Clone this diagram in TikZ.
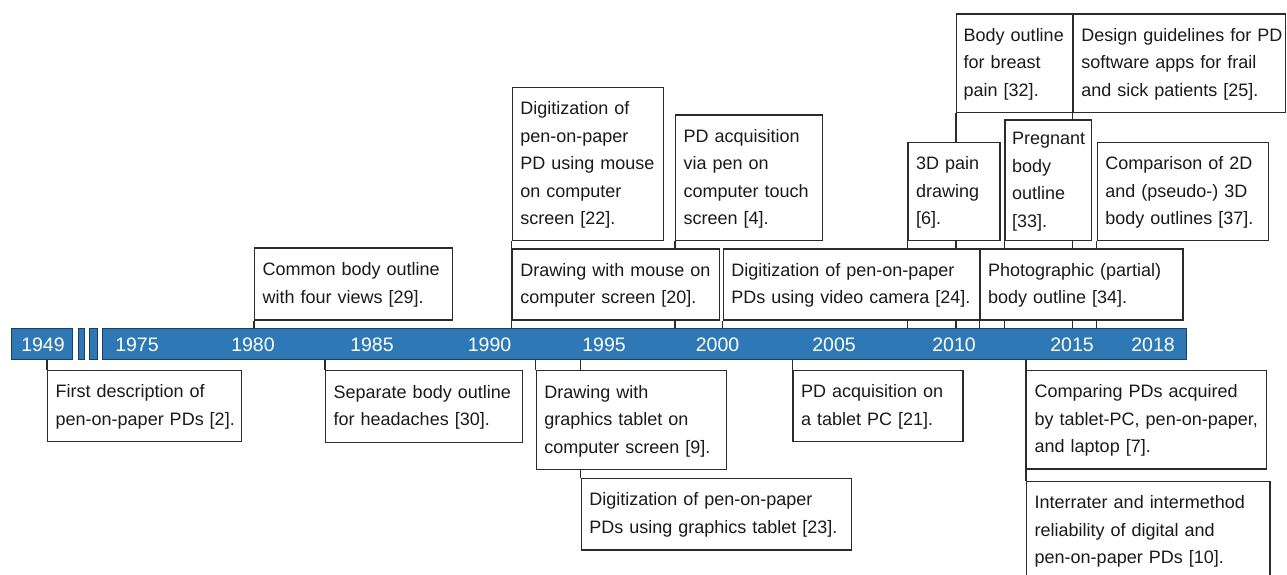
\documentclass[tikz,border=0pt]{standalone}
\usepackage{fontspec}
\setmainfont{Liberation Sans}
\usetikzlibrary{backgrounds}
\definecolor{barblue}{HTML}{2E78B6}
\definecolor{bardark}{HTML}{1C3E5E}
\definecolor{boxc}{HTML}{2B2B2B}
\definecolor{txt}{HTML}{1A1A1A}
\tikzset{
  evt/.style={draw=boxc, line width=1.4pt, fill=white, align=left, inner xsep=8pt, inner ysep=0pt,
    anchor=north west, text=txt, font=\fontsize{18}{27.5}\selectfont,
    execute at begin node={\exhyphenpenalty=10000\hyphenpenalty=10000\strut},
    execute at end node={\strut}},
  barseg/.style={draw=bardark, line width=0.8pt, fill=barblue, inner sep=0pt, anchor=north west, minimum height=30.4pt},
  yr/.style={text=white, font=\fontsize{19.5}{20}\selectfont, inner sep=0pt},
  conn/.style={draw=boxc, line width=1.3pt}
}
\begin{document}
\begin{tikzpicture}[x=1pt,y=-1pt]
\useasboundingbox (0,0) rectangle (1287,574);
\clip (0,0) rectangle (1287,574);
% timeline bar
\node[barseg, minimum width=60.4pt] (s1) at (11.3,328.3) {};
\node[barseg, minimum width=6.6pt] (s2) at (77.7,328.3) {};
\node[barseg, minimum width=7.4pt] (s3) at (89.3,328.3) {};
\node[barseg, minimum width=1083.7pt] (bar) at (102.3,328.3) {};
\node[yr] (y1949) at (43,344.5) {1949};
\node[yr] (y1975) at (137,344.5) {1975};
\node[yr] (y1980) at (253,344.5) {1980};
\node[yr] (y1985) at (372,344.5) {1985};
\node[yr] (y1990) at (489.5,344.5) {1990};
\node[yr] (y1995) at (604,344.5) {1995};
\node[yr] (y2000) at (717.5,344.5) {2000};
\node[yr] (y2005) at (834,344.5) {2005};
\node[yr] (y2010) at (954,344.5) {2010};
\node[yr] (y2015) at (1072,344.5) {2015};
\node[yr] (y2018) at (1153,344.5) {2018};
% top events
\node[evt, minimum width=197.7pt, minimum height=72pt, text width=181.7pt] (t1) at (254,247.3)
  {Common~body~outline\\with~four~views~[29].};
\node[evt, minimum width=151pt, minimum height=153.3pt, text width=135pt] (t2) at (511.7,86.7)
  {Digitization~of\\pen-on-paper\\PD~using~mouse\\on~computer\\screen~[22].};
\node[evt, minimum width=146.7pt, minimum height=125.7pt, text width=130.7pt] (t4) at (675,114.3)
  {PD~acquisition\\via~pen~on\\computer~touch\\screen~[4].};
\node[evt, minimum width=207.3pt, minimum height=71pt, text width=191.3pt] (t3) at (511.7,248.3)
  {Drawing~with~mouse~on\\computer~screen~[20].};
\node[evt, minimum width=256.6pt, minimum height=71pt, text width=240.6pt] (t5) at (722.7,248.3)
  {Digitization~of~pen-on-paper\\PDs~using~video~camera~[24].};
\node[evt, minimum width=115.7pt, minimum height=98.4pt, text width=101.7pt, inner xsep=7pt] (t7) at (956,13.3)
  {Body~outline\\for~breast\\pain~[32].};
\node[evt, minimum width=212.3pt, minimum height=98.4pt, text width=196.3pt] (t10) at (1072.7,13.3)
  {Design~guidelines~for~PD\\software~apps~for~frail\\and~sick~patients~[25].};
\node[evt, minimum width=92pt, minimum height=98.3pt, text width=76pt] (t6) at (907.3,141.7)
  {3D~pain\\drawing\\{}[6].};
\node[evt, minimum width=86.4pt, minimum height=120.7pt, text width=72.4pt, inner xsep=7pt] (t9) at (1004.3,119.3)
  {Pregnant\\body\\outline\\{}[33].};
\node[evt, minimum width=171pt, minimum height=98.3pt, text width=155pt] (t11) at (1096.7,141.7)
  {Comparison~of~2D\\and~(pseudo-)~3D\\body~outlines~[37].};
\node[evt, minimum width=203pt, minimum height=71pt, text width=187pt] (t8) at (979.3,248.3)
  {Photographic~(partial)\\body~outline~[34].};
% bottom events
\node[evt, minimum width=194pt, minimum height=71pt, text width=178pt] (b1) at (47,370)
  {First~description~of\\pen-on-paper~PDs~[2].};
\node[evt, minimum width=196.7pt, minimum height=71.7pt, text width=180.7pt] (b2) at (325,370)
  {Separate~body~outline\\for~headaches~[30].};
\node[evt, minimum width=190pt, minimum height=98.7pt, text width=174pt] (b3) at (535.7,370)
  {Drawing~with\\graphics~tablet~on\\computer~screen~[9].};
\node[evt, minimum width=270.3pt, minimum height=71.6pt, text width=254.3pt] (b4) at (580.7,477.7)
  {Digitization~of~pen-on-paper\\PDs~using~graphics~tablet~[23].};
\node[evt, minimum width=170pt, minimum height=71pt, text width=154pt] (b5) at (792.3,370)
  {PD~acquisition~on\\a~tablet~PC~[21].};
\node[evt, minimum width=239.7pt, minimum height=98.3pt, text width=223.7pt] (b6) at (1026,370)
  {Comparing~PDs~acquired\\by~tablet-PC,~pen-on-paper,\\and~laptop~[7].};
\node[evt, minimum width=243.3pt, minimum height=98.3pt, text width=227.3pt] (b7) at (1026,480.7)
  {Interrater~and~intermethod\\reliability~of~digital~and\\pen-on-paper~PDs~[10].};
% connectors
\begin{scope}[on background layer]
\foreach \n in {t1,t2,t3,t4,t5,t6,t7,t8,t9,t10,t11}
  \draw[conn] (\n.south west) -- (\n.south west |- bar.north);
\foreach \n in {b2,b3,b4,b5,b6,b7}
  \draw[conn] (\n.north west) -- (\n.north west |- bar.south);
\draw[conn] (b1.north west) -- (b1.north west |- s1.south);
\end{scope}
\end{tikzpicture}
\end{document}
